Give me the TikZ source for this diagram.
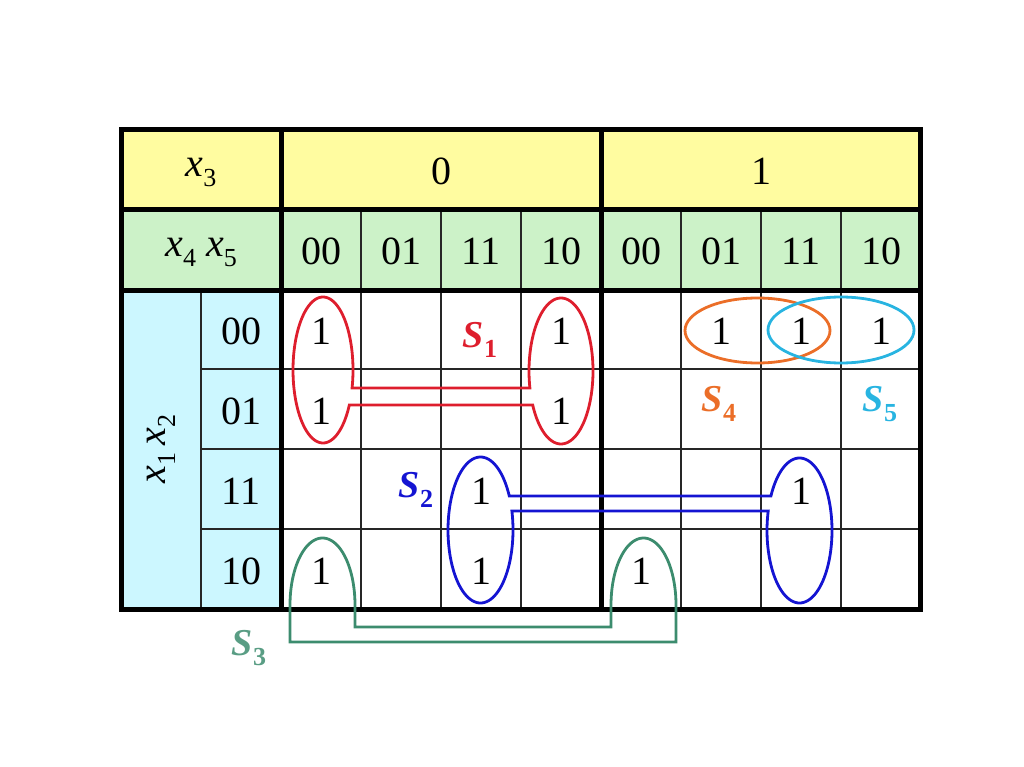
\documentclass[tikz,border=0pt]{standalone}
\usepackage{fontspec}
\setmainfont{Liberation Serif}
\definecolor{hdryellow}{RGB}{255,252,160}
\definecolor{hdrgreen}{RGB}{204,242,200}
\definecolor{lblblue}{RGB}{204,247,255}
\definecolor{sred}{RGB}{222,30,45}
\definecolor{sblue}{RGB}{20,20,210}
\definecolor{sgreen}{RGB}{60,140,110}
\definecolor{sorange}{RGB}{235,110,40}
\definecolor{scyan}{RGB}{40,180,225}
\newcommand\kvsub[1]{\raisebox{-0.25em}{\fontsize{26}{26}\selectfont #1}}
\newcommand\kvvar[1]{\textit{x}\kvsub{#1}}
\newcommand\kvS[1]{\textbf{\textit{S}}\kvsub{\textbf{#1}}}
\begin{document}
\begin{tikzpicture}[x=1pt,y=-1pt,
  thinline/.style={line width=1.4pt,black!85},
  thickline/.style={line width=5pt,black},
  loopline/.style={line width=2.8pt},
  txt/.style={font=\fontsize{40}{44}\selectfont,inner sep=0pt},
  lbl/.style={font=\fontsize{38}{42}\selectfont,inner sep=0pt}]
\useasboundingbox (0,0) rectangle (1024,767);
% fills
\fill[hdryellow] (121,130) rectangle (920,210);
\fill[hdrgreen] (121,210) rectangle (920,290);
\fill[lblblue] (121,290) rectangle (281,609);
% thin lines
\foreach \xx in {361,441,521,681,761,841} \draw[thinline] (\xx,210) -- (\xx,609);
\draw[thinline] (201,290) -- (201,609);
\foreach \yy in {369,449,529} \draw[thinline] (201,\yy) -- (920,\yy);
% thick lines
\draw[thickline] (121,130) rectangle (920,609);
\draw[thickline] (121,210) -- (920,210);
\draw[thickline] (121,290) -- (920,290);
\draw[thickline] (281,130) -- (281,609);
\draw[thickline] (601,130) -- (601,609);
% header texts
\node[txt] (hx3) at (201,172) {\kvvar{3}};
\node[txt] (h0) at (441,171) {0};
\node[txt] (h1) at (761,171) {1};
\node[txt] (hx45) at (201,252) {\kvvar{4} \kvvar{5}};
\node[txt] (c0) at (321,251) {00};
\node[txt] (c1) at (401,251) {01};
\node[txt] (c2) at (481,251) {11};
\node[txt] (c3) at (561,251) {10};
\node[txt] (c4) at (641,251) {00};
\node[txt] (c5) at (721,251) {01};
\node[txt] (c6) at (801,251) {11};
\node[txt] (c7) at (881,251) {10};
\node[txt,rotate=90] (hx12) at (161,449) {\kvvar{1}\,\kvvar{2}};
\node[txt] (r0) at (241,331) {00};
\node[txt] (r1) at (241,411) {01};
\node[txt] (r2) at (241,491) {11};
\node[txt] (r3) at (241,571) {10};
% ones
\node[txt] (v00) at (321,331) {1};
\node[txt] (v03) at (561,331) {1};
\node[txt] (v05) at (721,331) {1};
\node[txt] (v06) at (801,331) {1};
\node[txt] (v07) at (881,331) {1};
\node[txt] (v10) at (321,411) {1};
\node[txt] (v13) at (561,411) {1};
\node[txt] (v22) at (481,491) {1};
\node[txt] (v26) at (801,491) {1};
\node[txt] (v30) at (321,571) {1};
\node[txt] (v32) at (481,571) {1};
\node[txt] (v34) at (641,571) {1};
% S1
\draw[loopline,sred]
  plot[domain=-14.3:331.4,samples=120] ({323+30*cos(\x)},{370-73*sin(\x)})
  -- plot[domain=207.8:553.5,samples=120] ({561+32*cos(\x)},{371-73*sin(\x)})
  -- cycle;
% S2
\draw[loopline,sblue]
  plot[domain=27.8:375.1,samples=120] ({480.5+32.5*cos(\x)},{530-73*sin(\x)})
  -- plot[domain=164.4:511.6,samples=120] ({799.5+32.5*cos(\x)},{530.5-72.5*sin(\x)})
  -- cycle;
% S3
\draw[loopline,sgreen,line join=miter]
  (290,642) -- (290,605)
  -- plot[domain=180:0,samples=60] ({322.5+32.5*cos(\x)},{605-67*sin(\x)})
  -- (355,627) -- (611,627) -- (611,605)
  -- plot[domain=180:0,samples=60] ({643.5+32.5*cos(\x)},{605-67*sin(\x)})
  -- (676,642) -- cycle;
% S4, S5
\draw[loopline,sorange] (757.5,330.5) ellipse [x radius=72.5pt, y radius=32.5pt];
\draw[loopline,scyan] (841,330) ellipse [x radius=73pt, y radius=33pt];
% labels
\node[lbl,text=sred] (s1) at (480,340) {\kvS{1}};
\node[lbl,text=sblue] (s2) at (416,490) {\kvS{2}};
\node[lbl,text=sgreen!85!white] (s3) at (249,648) {\kvS{3}};
\node[lbl,text=sorange] (s4) at (719,404) {\kvS{4}};
\node[lbl,text=scyan] (s5) at (880,404) {\kvS{5}};
\end{tikzpicture}
\end{document}
